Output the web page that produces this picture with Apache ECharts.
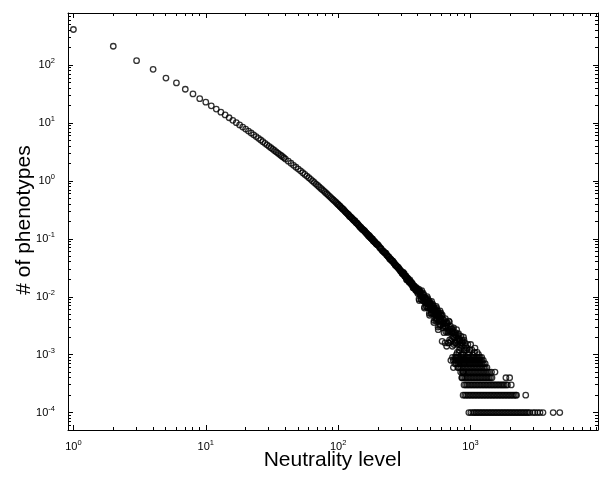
<!DOCTYPE html>
<html>
<head>
<meta charset="utf-8">
<script src="https://cdn.jsdelivr.net/npm/echarts@6/dist/echarts.min.js"></script>
<style>
  html, body { margin: 0; padding: 0; background: #fff; }
  #chart { width: 604px; height: 478px; }
</style>
</head>
<body>
<div id="chart"></div>
<script>
// Number of phenotypes (per neutrality level) against neutrality level, log-log.

// Smooth head of the distribution
const curveLevels = [
  1,2,3,4,5,6,7,8,9,10,11,12,13,14,15,16,17,18,19,20,
  21,22,23,24,25,26,27,28,29,30,31,32,33,34,35,36,37,38,39,40,
  42,44,46,48,50,52,54,56,58,60,62,64,66,68,70,72,74,76,78,80,
  82,84,86,88,90,92,94,96,98,100,
  103,106,109,112,115,118,121,124,127,130,133,136,139,142,145,148,151,154,157,160,
  163,166,169,172,175,178,181,184,187,190,193,196,199,
  205,210,215,220,225,230,235,240,245,250,255,260,265,270,275,280,285,290,295
];
const curveValues = [
  415,213,120,85,60,49.5,38.5,32,26.5,23,19.9,17.5,15.5,13.9,12.4,11.2,10.2,9.33,8.55,7.91,
  7.30,6.76,6.28,5.86,5.48,5.12,4.79,4.49,4.22,3.98,3.76,3.56,3.37,3.20,3.04,2.90,2.76,2.64,2.52,2.40,
  2.20,2.03,1.87,1.73,1.61,1.50,1.39,1.30,1.22,1.14,1.07,1.005,0.944,0.888,0.837,0.790,0.746,0.707,0.670,0.636,
  0.603,0.573,0.545,0.518,0.493,0.471,0.450,0.430,0.411,0.394,
  0.368,0.344,0.323,0.303,0.285,0.269,0.254,0.240,0.227,0.215,0.204,0.193,0.187,0.175,0.166,0.158,0.148,0.144,0.138,0.132,
  0.126,0.121,0.116,0.114,0.106,0.102,0.0981,0.0925,0.0908,0.0873,0.0841,0.0810,0.0797,
  0.0725,0.0683,0.0630,0.0608,0.0575,0.0560,0.0515,0.0489,0.0450,0.0442,0.0420,0.0410,0.0379,0.0352,0.0344,0.0327,0.0322,0.0299,0.0278
];

// Further levels along the same stretch
const bandLevels = [
  101,104,107,110,113,116,119,122,125,128,131,134,137,140,143,146,149,152,155,158,
  161,164,167,170,173,176,179,182,185,188,191,194,197,
  202,207,212,217,222,227,232,237,242,247,252,257,262,267,272,277,282,287,292,297
];
const bandValues = [
  0.385,0.360,0.337,0.322,0.297,0.280,0.264,0.244,0.236,0.223,0.211,0.205,0.190,0.181,0.172,0.160,0.156,0.149,0.142,0.139,
  0.130,0.124,0.119,0.111,0.109,0.105,0.101,0.0990,0.0931,0.0895,0.0862,0.0815,0.0800,
  0.0765,0.0700,0.0668,0.0622,0.0590,0.0568,0.0530,0.0506,0.0482,0.0455,0.0428,0.0413,0.0388,0.0374,0.0351,0.0336,0.0320,0.0305,0.0296,0.0281
];

// Noisy body of the distribution
const cloudLevels = [
  300,304,308,312,316,320,324,328,332,336,340,344,348,352,356,360,364,368,372,376,380,384,388,392,396,
  400,404,408,412,416,420,424,428,432,436,440,444,448,452,456,460,464,468,472,476,480,484,488,492,496,
  500,504,508,512,516,520,524,528,532,536,540,544,548,552,556,560,564,568,572,576,580,584,588,592,596,
  600,605,610,615,620,625,630,635,640,645,650,655,660,665,670,675,680,685,690,695,
  700,705,710,715,720,725,730,735,740,745,750,755,760,765,770,775,780,785,790,795,
  800,805,810,815,820,825,830,835,840,845,850,855,860,865,870,875,880,885,890,895,
  900,906,918,930,942,954,966,978,984,1002,1026,1038,1074,1080,1122,1150
];
const cloudValues = [
  .0275,.0255,.0261,.0244,.0250,.0225,.0223,.0201,.0211,.0207,.0191,.0179,.0195,.0177,.0165,.0169,.0169,.0143,.0156,.0144,.0145,.0132,.0140,.0130,.0136,
  .0114,.0122,.0092,.0122,.0126,.0104,.0089,.0128,.0100,.0086,.0100,.0108,.0064,.0097,.0080,.0088,.0069,.0089,.0076,.0093,.0067,.0074,.0052,.0076,.0079,
  .0062,.0051,.0083,.0062,.0052,.0064,.0070,.0036,.0062,.0050,.0056,.0042,.0058,.0048,.0063,.0042,.0048,.0030,.0050,.0053,.0040,.0031,.0057,.0041,.0033,
  .0042,.0047,.0017,.0042,.0031,.0037,.0024,.0039,.0031,.0042,.0025,.0031,.0014,.0033,.0035,.0024,.0016,.0038,.0026,.0018,
  .0027,.0031,.0008,.0028,.0019,.0024,.0014,.0026,.0020,.0029,.0015,.0020,.0007,.0022,.0024,.0016,.0009,.0027,.0017,.0011,
  .0019,.0022,.0006,.0019,.0012,.0017,.0008,.0018,.0013,.0021,.0010,.0014,.0004,.0016,.0017,.0010,.0005,.0020,.0012,.0007,
  .0013,.0016,.0014,.0012,.0013,.0015,.0010,.0011,.0012,.0015,.0012,.0010,.0011,.0013,.0011,.0010
];
const cloudLevels2 = [
  302,306,310,314,318,322,326,330,334,338,342,346,350,354,358,362,366,370,374,378,382,386,390,394,398,
  402,406,410,414,418,422,426,430,434,438,442,446,450,454,458,462,466,470,474,478,482,486,490,494,498,
  502,506,510,514,518,522,526,530,534,538,542,546,550,554,558,562,566,570,574,578,582,586,590,594,598,
  602,612,622,632,642,652,662,672,682,692,702,712,722,732,742,752,762,772,782,792,
  802,812,822,832,842,852,862,872,882,892
];
const cloudValues2 = [
  .0265,.0249,.0265,.0242,.0227,.0229,.0227,.0195,.0208,.0193,.0193,.0178,.0185,.0173,.0178,.0159,.0159,.0143,.0153,.0151,.0139,.0129,.0144,.0129,.0120,
  .0128,.0136,.0086,.0123,.0104,.0112,.0090,.0112,.0096,.0116,.0085,.0093,.0067,.0094,.0097,.0078,.0066,.0101,.0077,.0065,.0078,.0085,.0048,.0077,.0062,
  .0069,.0053,.0071,.0059,.0075,.0052,.0058,.0039,.0061,.0064,.0049,.0039,.0068,.0050,.0040,.0051,.0057,.0027,.0051,.0039,.0045,.0033,.0048,.0039,.0052,
  .0037,.0048,.0029,.0034,.0016,.0035,.0036,.0025,.0016,.0037,.0025,.0017,.0025,.0028,.0006,.0024,.0016,.0020,.0010,.0021,
  .0015,.0023,.0011,.0015,.0005,.0016,.0018,.0010,.0005,.0018
];

// Sparse tail: levels observed with 1..9 phenotypes per 10^4
const tailValues = [0.0001, 0.0002, 0.0003, 0.0004, 0.0005, 0.0006, 0.0007, 0.0008, 0.0009];
const tail1 = [971,1005,1041,1068,1096,1125,1155,1186,1217,1249,1282,1316,1351,1387,1424,1461,1500,1540,1581,1622,1665,1710,1755,1801,1849,1898,1948,2000,2053,2107,2163,2220,2279,2340,2402,2465,2531,2598,2667,2737,2810,2961,3067,3206,3345,3525,4208,4722];
const tail2 = [879,905,929,954,979,1005,1032,1059,1087,1116,1145,1176,1207,1239,1271,1305,1339,1375,1411,1448,1486,1525,1566,1607,1649,1693,1737,1783,1830,1879,1928,1979,2031,2085,2140,2196,2228,2611];
const tail3 = [893,917,941,966,992,1018,1045,1073,1101,1130,1160,1191,1222,1255,1288,1322,1357,1393,1430,1468,1507,1547,1588,1630,1673,1717,1762,1800,1860,1900,2030];
const tail4 = [862,885,908,932,957,982,1008,1035,1062,1090,1119,1149,1179,1210,1242,1275,1309,1343,1379,1415,1452,1850,1975];
const tail5 = [867,890,913,937,962,987,1013,1040,1067,1095,1124,1154,1184,1215,1247,1280,1314,1349,1385,1440,1530];
const tail6 = [800,830,852,874,897,921,945,970,996,1022,1049,1077,1105,1134,1164,1195,1227,1259,1292,1330];
const tail7 = [780,805,826,848,870,893,916,940,965,990,1016,1043,1071,1099,1128,1158,1188,1220,1252,1290];
const tail8 = [740,760,780,800,821,843,865,888,911,935,960,985,1011,1038,1065,1093,1122,1152,1182,1213,1250];
const tail9 = [730,760,780,801,822,844,866,889,912,936,961,986,1012,1039,1066,1094,1123,1153,1183,1215];
const tailLevels = [tail1, tail2, tail3, tail4, tail5, tail6, tail7, tail8, tail9];

// Axis ranges and labelled decades
const X_MIN = 0.91, X_MAX = 9180;
const Y_MIN = 5e-5, Y_MAX = 800;
const xTickExponents = [0, 1, 2, 3];
const yTickExponents = [-4, -3, -2, -1, 0, 1, 2];

const FONT = '"Liberation Sans", Arial, Helvetica, sans-serif';

const points = [];
function addPairs(xs, ys) { xs.forEach((x, i) => points.push([x, ys[i]])); }
addPairs(curveLevels, curveValues);
addPairs(bandLevels, bandValues);
addPairs(cloudLevels, cloudValues);
addPairs(cloudLevels2, cloudValues2);
tailLevels.forEach((row, r) => row.forEach(x => points.push([x, tailValues[r]])));

// Minor (2..9 x 10^k) tick positions inside each axis range
function minorTicks(lo, hi) {
  const out = [];
  for (let k = Math.floor(Math.log10(lo)); k <= Math.ceil(Math.log10(hi)); k++) {
    for (let m = 2; m <= 9; m++) {
      const v = m * Math.pow(10, k);
      if (v > lo && v < hi) out.push(v);
    }
  }
  return out;
}

function decadeLabel(exps) {
  return function (value) {
    const e = Math.log10(value);
    const r = Math.round(e);
    if (Math.abs(e - r) > 1e-6 || exps.indexOf(r) < 0) return '';
    return '{b|10}{e|' + r + '}';
  };
}

const labelRich = {
  b: { fontSize: 11, fontFamily: FONT, color: '#000', lineHeight: 16 },
  e: { fontSize: 7.5, fontFamily: FONT, color: '#000', verticalAlign: 'top' }
};

function line(x1, y1, x2, y2) {
  return { type: 'line', shape: { x1, y1, x2, y2 }, style: { stroke: '#000', lineWidth: 1 } };
}
const crisp = v => Math.round(v - 0.5) + 0.5;

const MINOR_LEN = 3;

function frameAxis(pos, range, extra) {
  return Object.assign({
    type: 'log', logBase: 10, min: range[0], max: range[1], position: pos,
    axisLine: { show: true, onZero: false, lineStyle: { color: '#000', width: 1 } },
    axisTick: { show: true, inside: true, length: 5, lineStyle: { color: '#000', width: 1 } },
    axisLabel: { show: false },
    splitLine: { show: false }
  }, extra || {});
}

const chart = echarts.init(document.getElementById('chart'), null, { renderer: 'canvas' });
chart.setOption({
  animation: false,
  backgroundColor: '#fff',
  grid: { left: 68, right: 6, top: 13, bottom: 48, containLabel: false, outerBoundsMode: 'none' },
  xAxis: [
    frameAxis('bottom', [X_MIN, X_MAX], {
      axisLabel: { show: true, margin: 9, formatter: decadeLabel(xTickExponents), rich: labelRich,
                   showMinLabel: false, showMaxLabel: false }
    }),
    frameAxis('top', [X_MIN, X_MAX])
  ],
  yAxis: [
    frameAxis('left', [Y_MIN, Y_MAX], {
      splitNumber: 8,
      axisLabel: { show: true, margin: 13, formatter: decadeLabel(yTickExponents), rich: labelRich,
                   showMinLabel: false, showMaxLabel: false }
    }),
    frameAxis('right', [Y_MIN, Y_MAX], { splitNumber: 8 })
  ],
  graphic: [
    {
      type: 'text', silent: true,
      style: { text: 'Neutrality level', x: 332.5, y: 460, textAlign: 'center', textVerticalAlign: 'middle',
               font: '21px ' + FONT, fill: '#000' }
    },
    {
      type: 'text', silent: true, rotation: Math.PI / 2, x: 24.5, y: 220,
      style: { text: '# of phenotypes', x: 0, y: 0, textAlign: 'center', textVerticalAlign: 'middle',
               font: '21px ' + FONT, fill: '#000' }
    }
  ],
  series: [
    {
      type: 'scatter', xAxisIndex: 0, yAxisIndex: 0, data: points,
      symbol: 'circle', symbolSize: 5.5, silent: true,
      itemStyle: { color: 'rgba(0,0,0,0)', borderColor: '#000', borderWidth: 1.3 },
      z: 3
    },
    {
      type: 'custom', xAxisIndex: 0, yAxisIndex: 0, silent: true, clip: false, z: 4,
      data: minorTicks(X_MIN, X_MAX).map(v => [v, Y_MIN]),
      renderItem: function (params, api) {
        const v = api.value(0);
        const b = api.coord([v, Y_MIN]);
        const t = api.coord([v, Y_MAX]);
        const x = crisp(b[0]);
        return { type: 'group', children: [
          line(x, b[1], x, b[1] - MINOR_LEN),
          line(x, t[1], x, t[1] + MINOR_LEN)
        ] };
      }
    },
    {
      type: 'custom', xAxisIndex: 0, yAxisIndex: 0, silent: true, clip: false, z: 4,
      data: minorTicks(Y_MIN, Y_MAX).map(v => [X_MIN, v]),
      renderItem: function (params, api) {
        const v = api.value(1);
        const l = api.coord([X_MIN, v]);
        const r = api.coord([X_MAX, v]);
        const y = crisp(l[1]);
        return { type: 'group', children: [
          line(l[0], y, l[0] + MINOR_LEN, y),
          line(r[0], y, r[0] - MINOR_LEN, y)
        ] };
      }
    }
  ]
});
</script>
</body>
</html>
